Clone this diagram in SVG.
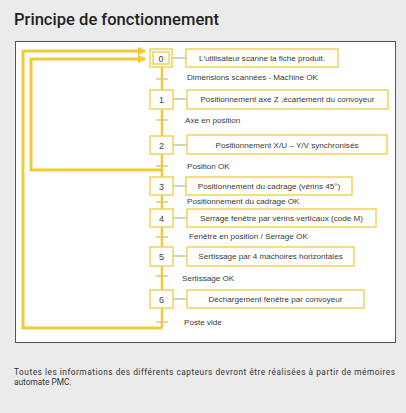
<svg xmlns="http://www.w3.org/2000/svg" width="406" height="413" viewBox="0 0 406 413">
<defs>
<style>
.title{font-family:Roboto,"Liberation Sans",sans-serif;font-weight:500;font-size:17px;fill:#222}
.note{font-family:Roboto,"Liberation Sans",sans-serif;font-size:8.3px;fill:#333}
.t{font-family:"Liberation Sans",Arial,sans-serif;font-size:8.1px;fill:#3a3a3a}
.num{font-family:"Liberation Sans",Arial,sans-serif;font-size:9px;fill:#444;text-anchor:middle}
.step{fill:#fff;stroke:#f0d25a;stroke-width:1.5}
.act{fill:#fff;stroke:#f0d25a;stroke-width:1.5}
.loop{fill:none;stroke:#f0cb38;stroke-width:3;stroke-linejoin:round}
.main{fill:none;stroke:#f0cb38;stroke-width:2.5}
.link{stroke:#c9c3a6;stroke-width:1.5}
.tick{stroke:#d8c97e;stroke-width:1.5}
</style>
<marker id="arr" viewBox="0 0 6 6" refX="5" refY="3" markerWidth="3" markerHeight="3" orient="auto" markerUnits="strokeWidth">
<path d="M0,0 L6,3 L0,6 z" fill="#f0cb38"/>
</marker>
</defs>
<rect x="0" y="0" width="406" height="413" fill="#ebebeb"/>
<text class="title" x="14" y="25" textLength="205" lengthAdjust="spacingAndGlyphs">Principe de fonctionnement</text>
<rect x="15.5" y="41.5" width="380" height="301" fill="#fff" stroke="#555" stroke-width="1"/>

<g id="connectors">
<path class="main" d="M162,67 V328"/>
<path class="loop" d="M162,328 H23 V51 H145" marker-end="url(#arr)"/>
<path class="loop" d="M162,170 H31 V59 H145" marker-end="url(#arr)"/>
<line class="link" x1="172" y1="58" x2="186" y2="58"/>
<line class="link" x1="173" y1="99" x2="187" y2="99"/>
<line class="link" x1="173" y1="145" x2="187" y2="145"/>
<line class="link" x1="173" y1="186" x2="186" y2="186"/>
<line class="link" x1="173" y1="218" x2="187" y2="218"/>
<line class="link" x1="173" y1="256" x2="187" y2="256"/>
<line class="link" x1="173" y1="299" x2="187" y2="299"/>
<line class="tick" x1="156" y1="79" x2="168" y2="79"/>
<line class="tick" x1="156" y1="120" x2="168" y2="120"/>
<line class="tick" x1="156" y1="166" x2="168" y2="166"/>
<line class="tick" x1="156" y1="202" x2="168" y2="202"/>
<line class="tick" x1="156" y1="237" x2="168" y2="237"/>
<line class="tick" x1="156" y1="276" x2="168" y2="276"/>
<line class="tick" x1="156" y1="322" x2="168" y2="322"/>
<text class="t" x="187" y="80">Dimensions scannées - Machine OK</text>
<text class="t" x="185" y="123">Axe en position</text>
<text class="t" x="187" y="169">Position OK</text>
<text class="t" x="187" y="204">Positionnement du cadrage OK</text>
<text class="t" x="189" y="239">Fenêtre en position / Serrage OK</text>
<text class="t" x="182" y="281">Sertissage OK</text>
<text class="t" x="184" y="325">Poste vide</text>
</g>

<g id="step0">
<rect class="step" x="150" y="49" width="22" height="18"/>
<rect class="step" x="153" y="52" width="16" height="12"/>
<text class="num" x="161" y="61.5">0</text>
</g>
<g id="action0">
<rect class="act" x="186" y="49" width="152" height="18"/>
<text class="t" x="262" y="60.8" text-anchor="middle">L'utilisateur scanne la fiche produit.</text>
</g>

<g id="step1">
<rect class="step" x="150" y="90" width="23" height="19"/>
<text class="num" x="161.5" y="102.5">1</text>
</g>
<g id="action1">
<rect class="act" x="187" y="90" width="201" height="19"/>
<text class="t" x="287.5" y="102.3" text-anchor="middle">Positionnement axe Z ,écartement du convoyeur</text>
</g>

<g id="step2">
<rect class="step" x="150" y="136" width="23" height="18"/>
<text class="num" x="161.5" y="148.5">2</text>
</g>
<g id="action2">
<rect class="act" x="187" y="135" width="200" height="19"/>
<text class="t" x="287" y="147.8" text-anchor="middle">Positionnement X/U – Y/V synchronisés</text>
</g>

<g id="step3">
<rect class="step" x="150" y="177" width="23" height="18"/>
<text class="num" x="161.5" y="189.5">3</text>
</g>
<g id="action3">
<rect class="act" x="186" y="177" width="166" height="18"/>
<text class="t" x="269" y="188.8" text-anchor="middle">Positionnement du cadrage (vérins 45°)</text>
</g>

<g id="step4">
<rect class="step" x="150" y="209" width="23" height="18"/>
<text class="num" x="161.5" y="221.5">4</text>
</g>
<g id="action4">
<rect class="act" x="187" y="209" width="189" height="18"/>
<text class="t" x="281.5" y="220.8" text-anchor="middle">Serrage fenêtre par vérins verticaux (code M)</text>
</g>

<g id="step5">
<rect class="step" x="150" y="247" width="23" height="19"/>
<text class="num" x="161.5" y="259.5">5</text>
</g>
<g id="action5">
<rect class="act" x="187" y="247" width="167" height="19"/>
<text class="t" x="270.5" y="259.3" text-anchor="middle">Sertissage par 4 machoires horizontales</text>
</g>

<g id="step6">
<rect class="step" x="150" y="290" width="23" height="18"/>
<text class="num" x="161.5" y="302.5">6</text>
</g>
<g id="action6">
<rect class="act" x="187" y="290" width="177" height="18"/>
<text class="t" x="275.5" y="301.8" text-anchor="middle">Déchargement fenêtre par convoyeur</text>
</g>

<text class="note" x="14" y="375" textLength="381" lengthAdjust="spacing">Toutes les informations des différents capteurs devront être réalisées à partir de mémoires</text>
<text class="note" x="14" y="385">automate PMC.</text>
</svg>
